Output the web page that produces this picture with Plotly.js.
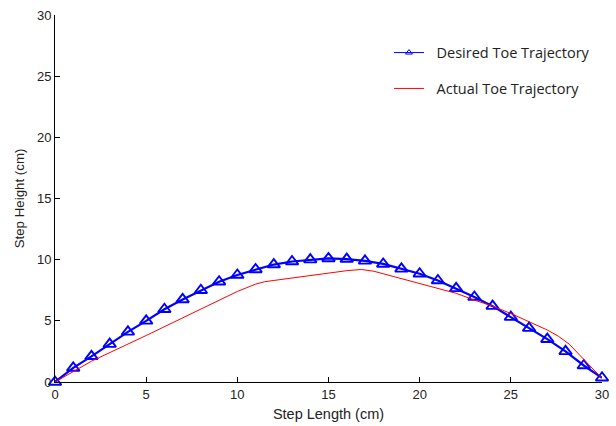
<!DOCTYPE html>
<html>
<head>
<meta charset="utf-8">
<script src="https://cdn.plot.ly/plotly-3.0.1.min.js"></script>
<style>html,body{margin:0;padding:0;background:#fff;}#chart{width:616px;height:426px;}</style>
</head>
<body>
<div id="chart"></div>
<script>
// Desired toe trajectory (blue, triangles)
const desiredX = [0,1,2,3,4,5,6,7,8,9,10,11,12,13,14,15,16,17,18,19,20,21,22,23,24,25,26,27,28,29,30];
const desiredY = [0,1.15,2.1,3.1,4.1,5.0,5.95,6.75,7.5,8.2,8.75,9.2,9.6,9.85,10.0,10.1,10.05,9.9,9.65,9.25,8.85,8.3,7.65,6.95,6.2,5.3,4.4,3.5,2.5,1.35,0.35];
// Actual toe trajectory (red line)
const actualX = [0,2,5,8,10,11,11.5,12,13,14,15,16,16.8,17.5,18,19,20,22,23,24,25,26,27,27.6,28.2,29,30];
const actualY = [0,1.7,3.8,6.0,7.4,8.0,8.2,8.3,8.5,8.75,8.95,9.1,9.2,9.05,8.85,8.45,8.05,7.25,6.7,6.2,5.6,4.95,4.25,3.75,3.1,1.85,0.3];
const xTicks = [0,5,10,15,20,25,30];
const yTicks = [0,5,10,15,20,25,30];
const seriesNames = ['Desired Toe Trajectory','Actual Toe Trajectory'];

const nb = '\u00a0\u00a0';
const traces = [
  {x: desiredX, y: desiredY, name: seriesNames[0], type: 'scatter', mode: 'lines+markers',
   line: {color: '#0000ff', width: 2.2},
   marker: {symbol: 'triangle-up-open', size: 11, color: '#0000ff', line: {width: 1.9, color: '#0000ff'}},
   cliponaxis: false, showlegend: false},
  {x: actualX, y: actualY, name: seriesNames[1], type: 'scatter', mode: 'lines',
   line: {color: '#ff0000', width: 1}, cliponaxis: false, showlegend: false},
  // legend-only entries (thin symbols, as in the reference legend)
  {x: [null], y: [null], name: nb + seriesNames[0], type: 'scatter', mode: 'lines+markers',
   line: {color: '#0000ff', width: 1},
   marker: {symbol: 'triangle-up-open', size: 6, color: '#0000ff', line: {width: 1, color: '#0000ff'}},
   legendgroup: 'a'},
  {x: [null], y: [null], name: nb + seriesNames[1], type: 'scatter', mode: 'lines',
   line: {color: '#ff0000', width: 1}, legendgroup: 'b'}
];

const axisCommon = {
  showgrid: false, zeroline: false, showline: true, linecolor: '#000', linewidth: 1,
  ticks: 'inside', ticklen: 5, tickcolor: '#000', tickwidth: 1,
  tickfont: {family: 'Liberation Sans, Arial, sans-serif', size: 13, color: '#222'},
  range: [0, 30], autorange: false, fixedrange: true
};

const layout = {
  width: 616, height: 426,
  margin: {l: 55, r: 14, t: 15, b: 44},
  paper_bgcolor: '#fff', plot_bgcolor: '#fff',
  xaxis: Object.assign({}, axisCommon, {tickvals: xTicks, ticktext: xTicks.map(String),
    title: {text: 'Step Length (cm)', standoff: 8, font: {family: 'Liberation Sans, Arial, sans-serif', size: 14.5, color: '#222'}}}),
  yaxis: Object.assign({}, axisCommon, {tickvals: yTicks, ticktext: yTicks.map(String),
    title: {text: 'Step Height (cm)', standoff: 9, font: {family: 'Liberation Sans, Arial, sans-serif', size: 13.3, color: '#222'}}}),
  showlegend: true,
  legend: {x: 0.6106, y: 0.941, xanchor: 'left', yanchor: 'top', bgcolor: 'rgba(0,0,0,0)', borderwidth: 0,
    font: {family: 'Open Sans, sans-serif', size: 14.5, color: '#222'}, tracegroupgap: 14, traceorder: 'grouped', itemwidth: 30}
};

Plotly.newPlot('chart', traces, layout, {displayModeBar: false, staticPlot: true});
</script>
</body>
</html>
